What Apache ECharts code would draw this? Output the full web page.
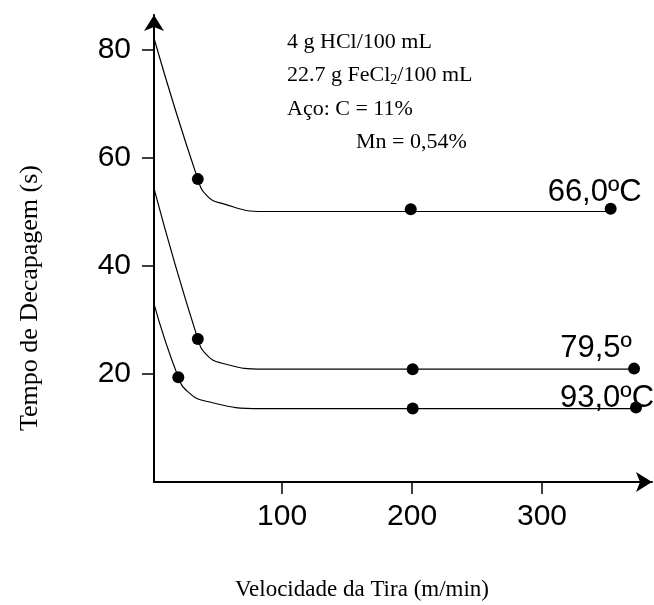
<!DOCTYPE html>
<html><head><meta charset="utf-8">
<script src="https://cdn.jsdelivr.net/npm/echarts@6/dist/echarts.min.js"></script>
<style>html,body{margin:0;padding:0;background:#fff}#c{width:654px;height:605px}</style>
</head><body><div id="c"></div>
<script>
// ---- data ----
const xTicks = [100, 200, 300];
const yTicks = [20, 40, 60, 80];
const xTitle = 'Velocidade da Tira (m/min)';
const yTitle = 'Tempo de Decapagem (s)';
const seriesNames = ['66,0ºC', '79,5º', '93,0ºC'];
// fitted curves (speed, time)
const curve66 = [[1.5,82.2],[35.2,56.1],[42.3,53.0],[53.8,51.6],[85.4,50.1],[110,50.1],[352.8,50.1]];
const curve79 = [[1.5,54.4],[35.2,26.5],[42.3,23.5],[53.8,22.0],[85.2,20.9],[110,20.9],[370.8,20.9]];
const curve93 = [[1.5,33.0],[20.2,19.4],[27.7,16.7],[40.8,15.0],[83.6,13.6],[110,13.6],[372.3,13.6]];
// measured points
const dots66 = [[35.2,56.1],[199,50.5],[352.8,50.6]];
const dots79 = [[35.2,26.5],[200.5,20.9],[370.8,21.0]];
const dots93 = [[20.2,19.4],[200.5,13.6],[372.3,13.8]];
const noteLines = ['4 g HCl/100 mL', '22.7 g FeCl{sub|2}/100 mL', 'Aço: C = 11%', 'Mn = 0,54%'];

const chart = echarts.init(document.getElementById('c'), null, {renderer: 'canvas'});
const sans = 'Liberation Sans, Arial, sans-serif';
const serif = 'Liberation Serif, Times New Roman, serif';
const labelOffsets = [[-16,-16],[-38,-20],[-29,-9]];

function lineSeries(data) {
  return {type:'line', data, smooth:0.5, showSymbol:false, symbol:'none',
    lineStyle:{color:'#000', width:1.2, opacity:1}, silent:true, z:2};
}
function dotSeries(data, idx) {
  return {type:'scatter', symbol:'circle', symbolSize:12, itemStyle:{color:'#000', opacity:1}, z:3,
    data: data.map((p, i) => i === data.length - 1 ? {value:p, label:{show:true, formatter:seriesNames[idx],
      position:'inside', offset:labelOffsets[idx], fontSize:31, fontFamily:sans, color:'#000', opacity:1}} : p)};
}

const option = {
  backgroundColor:'#fff',
  animation:false,
  grid:{left:154, right:2, top:15, bottom:123, containLabel:false},
  xAxis:{type:'value', min:1.5, max:384.6,
    axisLine:{show:true, onZero:false, lineStyle:{color:'#000', width:2}, symbol:['none','arrow'], symbolSize:[15,16]},
    axisTick:{show:true, customValues:xTicks, length:12, lineStyle:{color:'#000', width:1.5}},
    axisLabel:{show:true, customValues:xTicks, margin:20, fontSize:30, fontFamily:sans, color:'#000'},
    splitLine:{show:false}},
  yAxis:{type:'value', min:0, max:86.5,
    axisLine:{show:true, onZero:false, lineStyle:{color:'#000', width:2}, symbol:['none','arrow'], symbolSize:[15,16]},
    axisTick:{show:true, customValues:yTicks, length:12, lineStyle:{color:'#000', width:1.5}},
    axisLabel:{show:true, customValues:yTicks, margin:23, fontSize:30, fontFamily:sans, color:'#000'},
    splitLine:{show:false}},
  graphic:[
    {type:'text', x:362, y:590, style:{text:xTitle, font:'23px '+serif, fill:'#000', align:'center', verticalAlign:'middle'}},
    {type:'text', x:30, y:298, rotation:Math.PI/2, style:{text:yTitle, font:'26px '+serif, fill:'#000', align:'center', verticalAlign:'middle'}},
    {type:'text', x:287, y:42, style:{text:noteLines[0], font:'22px '+serif, fill:'#000', verticalAlign:'middle'}},
    {type:'text', x:287, y:75.5, style:{text:noteLines[1], font:'22px '+serif, fill:'#000', verticalAlign:'middle',
      rich:{sub:{font:'14px '+serif, fill:'#000', padding:[9,0,0,0]}}}},
    {type:'text', x:287, y:109, style:{text:noteLines[2], font:'22px '+serif, fill:'#000', verticalAlign:'middle'}},
    {type:'text', x:356, y:142.5, style:{text:noteLines[3], font:'22px '+serif, fill:'#000', verticalAlign:'middle'}}
  ],
  series:[lineSeries(curve66), lineSeries(curve79), lineSeries(curve93),
    dotSeries(dots66,0), dotSeries(dots79,1), dotSeries(dots93,2)]
};
chart.setOption(option);
</script></body></html>
